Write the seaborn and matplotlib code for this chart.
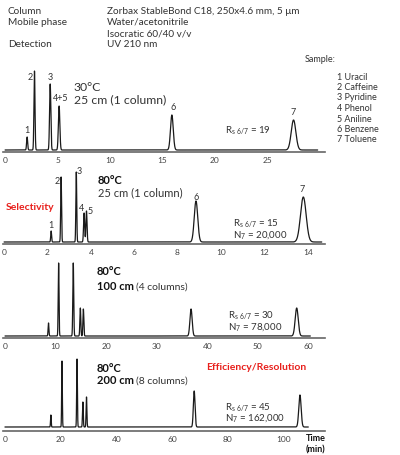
import numpy as np
import pandas as pd
import matplotlib
matplotlib.use("Agg")
import matplotlib.pyplot as plt
import seaborn as sns

sns.set_theme(style="white")
plt.rcParams['font.family'] = ['Lato', 'DejaVu Sans']
plt.rcParams['mathtext.default'] = 'regular'

# ---- data ----
compounds = ["Uracil", "Caffeine", "Pyridine", "Phenol", "Aniline", "Benzene", "Toluene"]

# panel 1: 30 C, 25 cm
rt_30c_25 = [2.1, 2.8, 4.3, 5.15, 5.15, 15.9, 27.5]
h_30c_25 = [13, 79, 66, 22, 22, 35, 30]
w_30c_25 = [0.05, 0.05, 0.06, 0.07, 0.07, 0.13, 0.22]

# panel 2: 80 C, 25 cm
rt_80c_25 = [2.17, 2.63, 3.33, 3.69, 3.8, 8.85, 13.8]
h_80c_25 = [11, 65, 70, 29, 31, 41, 45]
w_80c_25 = [0.02, 0.02, 0.02, 0.025, 0.025, 0.08, 0.13]

# panel 3: 80 C, 100 cm
rt_80c_100 = [8.6, 10.6, 13.5, 14.9, 15.5, 36.8, 57.7]
h_80c_100 = [13, 73, 73, 28, 27, 27, 28]
w_80c_100 = [0.08, 0.08, 0.09, 0.09, 0.09, 0.22, 0.3]

# panel 4: 80 C, 200 cm
rt_80c_200 = [16.5, 20.5, 25.9, 28.0, 29.3, 68.0, 106.0]
h_80c_200 = [12, 66, 68, 25, 30, 36, 32]
w_80c_200 = [0.12, 0.12, 0.13, 0.14, 0.14, 0.3, 0.42]

run_end = [29.8, 14.65, 60.4, 109.0]   # end of recorded trace (min)
xmax_list = [30.5, 14.8, 63.3, 115.0]
xmin_list = [-0.2, -0.05, -0.4, -0.7]
tick_list = [[0, 5, 10, 15, 20, 25], [0, 2, 4, 6, 8, 10, 12, 14],
             [0, 10, 20, 30, 40, 50, 60], [0, 20, 40, 60, 80, 100]]

rs_list = [19, 15, 30, 45]
n7_list = [None, "20,000", "78,000", "162,000"]

W, H = 400, 456
fig = plt.figure(figsize=(W / 100, H / 100), dpi=100)

def fx(px):
    return px / W

def fy(py):
    return 1 - py / H

def add_ax(axis_y, baseline_off):
    height = 92
    ax = fig.add_axes([fx(3), fy(axis_y), fx(322), height / H])
    ax.set_ylim(-baseline_off, height - baseline_off)
    ax.patch.set_alpha(0)
    return ax

panels = [
    (rt_30c_25, h_30c_25, w_30c_25, 153, 2),
    (rt_80c_25, h_80c_25, w_80c_25, 245, 2),
    (rt_80c_100, h_80c_100, w_80c_100, 339, 2),
    (rt_80c_200, h_80c_200, w_80c_200, 432, 4),
]

axes = []
for i, (rt, hh, ww, ay, off) in enumerate(panels):
    ax = add_ax(ay, off)
    t = np.linspace(0, run_end[i], 8000)
    sig = np.zeros_like(t)
    for r, a, s in zip(rt, hh, ww):
        sig += a * np.exp(-0.5 * ((t - r) / s) ** 2)
    df = pd.DataFrame({"time": t, "signal": sig})
    sns.lineplot(data=df, x="time", y="signal", ax=ax, color="#1a1a1a",
                 linewidth=0.9, estimator=None, sort=False)
    ax.set_xlim(xmin_list[i], xmax_list[i])
    ax.set_xticks(tick_list[i])
    ax.set_xticklabels([str(v) for v in tick_list[i]])
    ax.tick_params(axis="x", length=0, pad=3, labelsize=6, labelcolor="#444444")
    ax.set_yticks([])
    ax.set_xlabel("")
    ax.set_ylabel("")
    for sp in ["left", "top", "right"]:
        ax.spines[sp].set_visible(False)
    ax.spines["bottom"].set_color("#666666")
    ax.spines["bottom"].set_linewidth(1.2)
    axes.append(ax)

def ftext(px, py, s, size=7, weight="normal", color="#333333", ha="left"):
    fig.text(fx(px), fy(py), s, fontsize=size, fontweight=weight, color=color,
             ha=ha, va="center")

# header
hdr_left = ["Column", "Mobile phase", "", "Detection"]
hdr_right = ["Zorbax StableBond C18, 250x4.6 mm, 5 μm", "Water/acetonitrile",
             "Isocratic 60/40 v/v", "UV 210 nm"]
for k, (a, b) in enumerate(zip(hdr_left, hdr_right)):
    y = 11 + k * 11.3
    if a:
        ftext(8, y, a, size=7.2)
    ftext(107, y, b, size=7.2)

# sample legend
ftext(305, 60, "Sample:", size=6.5)
for k, c in enumerate(compounds):
    ftext(337, 77 + k * 10.5, f"{k + 1} {c}", size=6.5)

# panel 1 annotations
ftext(74, 88, "30°C", size=8.8)
ftext(74, 100, "25 cm (1 column)", size=8.8)
for lab, px, py in [("1", 27, 131), ("2", 30, 77), ("3", 50, 77), ("4+5", 61, 99),
                    ("6", 173, 108), ("7", 293, 113)]:
    ftext(px, py, lab, size=6.5, ha="center")
ftext(225, 130, r"R$_{s\ 6/7}$ = %d" % rs_list[0], size=7)

# panel 2
ftext(98, 180, "80°C", size=8, weight="bold", color="#111111")
ftext(98, 193, "25 cm (1 column)", size=8)
ftext(6, 208, "Selectivity", size=7.5, weight="bold", color="#e8201c")
for lab, px, py in [("1", 51, 226), ("2", 57, 182), ("3", 79, 172), ("4", 82, 209),
                    ("5", 90, 212), ("6", 196, 197), ("7", 302, 189)]:
    ftext(px, py, lab, size=6.5, ha="center")
ftext(233, 223, r"R$_{s\ 6/7}$ = %d" % rs_list[1], size=7)
ftext(233, 235, r"N$_7$ = " + n7_list[1], size=7)

# panel 3
ftext(97, 272, "80°C", size=8, weight="bold", color="#111111")
t1 = fig.text(fx(97), fy(287), "100 cm", fontsize=8, fontweight="bold",
              color="#111111", va="center")
fig.canvas.draw()
bb = t1.get_window_extent()
fig.text(bb.x1 / W + fx(2), fy(287), "(4 columns)", fontsize=7.5, color="#333333", va="center")
ftext(228, 315, r"R$_{s\ 6/7}$ = %d" % rs_list[2], size=7)
ftext(228, 327, r"N$_7$ = " + n7_list[2], size=7)

# panel 4
ftext(97, 369, "80°C", size=8, weight="bold", color="#111111")
t2 = fig.text(fx(97), fy(381), "200 cm", fontsize=8, fontweight="bold",
              color="#111111", va="center")
fig.canvas.draw()
bb = t2.get_window_extent()
fig.text(bb.x1 / W + fx(2), fy(381), "(8 columns)", fontsize=7.5, color="#333333", va="center")
ftext(206, 368, "Efficiency/Resolution", size=7.5, weight="bold", color="#e8201c")
ftext(225, 407, r"R$_{s\ 6/7}$ = %d" % rs_list[3], size=7)
ftext(225, 418, r"N$_7$ = " + n7_list[3], size=7)
ftext(306, 439, "Time", size=6.5, weight="bold", color="#111111")
ftext(306, 450, "(min)", size=6.5, weight="bold", color="#111111")

fig.savefig("out.png", dpi=100)
